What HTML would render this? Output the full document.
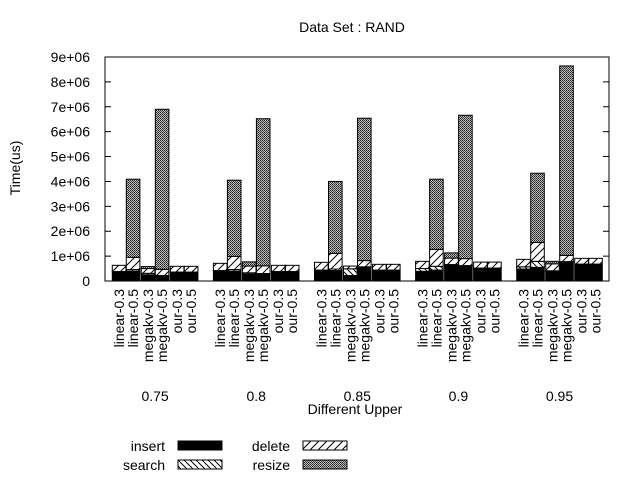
<!DOCTYPE html>
<html><head><meta charset="utf-8"><style>
body{margin:0;background:#fff}
svg{display:block;font-family:"Liberation Sans",sans-serif;font-size:14px}
</style></head><body>
<svg width="640" height="480" viewBox="0 0 640 480" id="chart">
<defs>
<pattern id="pSearch" width="6" height="6" patternUnits="userSpaceOnUse"><rect width="6" height="6" fill="#fff"/><path d="M0,0 L6,6 M-3,3 L0,6 M3,-3 L6,0" stroke="#000" stroke-width="1"/></pattern>
<pattern id="pDelete" width="8" height="8" patternUnits="userSpaceOnUse"><rect width="8" height="8" fill="#fff"/><path d="M0,8 L8,0 M-4,4 L4,-4 M4,12 L12,4" stroke="#000" stroke-width="1"/></pattern>
<pattern id="pResize" width="2" height="2" patternUnits="userSpaceOnUse"><rect width="2" height="2" fill="#bbb"/><rect width="1" height="1" fill="#222"/><rect x="1" y="1" width="1" height="1" fill="#444"/></pattern>
</defs>
<text x="352" y="32" text-anchor="middle">Data Set : RAND</text>
<text transform="translate(20,168) rotate(-90)" text-anchor="middle">Time(us)</text>
<text x="355" y="414" text-anchor="middle">Different Upper</text>
<g id="plot"></g>
<rect x="105" y="57" width="504" height="224" fill="none" stroke="#000" stroke-width="1"/>
<g>
<text x="165" y="451" text-anchor="end">insert</text>
<rect x="178" y="441" width="44" height="9" fill="#000" stroke="#000"/>
<text x="290" y="451" text-anchor="end">delete</text>
<rect x="303" y="441" width="44" height="9" fill="url(#pDelete)" stroke="#000"/>
<text x="165" y="470" text-anchor="end">search</text>
<rect x="178" y="460" width="44" height="9" fill="url(#pSearch)" stroke="#000"/>
<text x="290" y="470" text-anchor="end">resize</text>
<rect x="303" y="460" width="44" height="9" fill="url(#pResize)" stroke="#000"/>
</g>
</svg>
<script>
const groups = ["0.75","0.8","0.85","0.9","0.95"];
const methods = ["linear-0.3","linear-0.5","megakv-0.3","megakv-0.5","our-0.3","our-0.5"];
const yTicks = [0,1e6,2e6,3e6,4e6,5e6,6e6,7e6,8e6,9e6];
const yTickLabels = ["0","1e+06","2e+06","3e+06","4e+06","5e+06","6e+06","7e+06","8e+06","9e+06"];
// values in units of 1e6 us, per group, per method
const insertVals = [
 [0.35,0.40,0.25,0.20,0.36,0.36],
 [0.38,0.40,0.28,0.28,0.38,0.38],
 [0.40,0.42,0.22,0.55,0.44,0.44],
 [0.39,0.44,0.64,0.60,0.52,0.52],
 [0.48,0.55,0.39,0.76,0.68,0.68]];
const searchVals = [
 [0.03,0.06,0.06,0.02,0.00,0.00],
 [0.04,0.06,0.05,0.02,0.00,0.00],
 [0.04,0.06,0.27,0.02,0.00,0.00],
 [0.11,0.15,0.02,0.02,0.00,0.00],
 [0.09,0.24,0.02,0.02,0.00,0.00]];
const deleteVals = [
 [0.25,0.49,0.19,0.25,0.23,0.23],
 [0.29,0.53,0.27,0.31,0.25,0.25],
 [0.31,0.63,0.11,0.25,0.23,0.23],
 [0.29,0.68,0.26,0.28,0.24,0.24],
 [0.30,0.76,0.28,0.25,0.23,0.23]];
const resizeVals = [
 [0.00,3.14,0.08,6.43,0.00,0.00],
 [0.00,3.06,0.17,5.91,0.00,0.00],
 [0.00,2.89,0.00,5.72,0.00,0.00],
 [0.00,2.82,0.21,5.76,0.00,0.00],
 [0.00,2.78,0.10,7.61,0.00,0.00]];

const NS="http://www.w3.org/2000/svg";
const plot=document.getElementById('plot');
const y0=281, y1=57, yMax=9e6;
function yPix(v){return y0-v/yMax*(y0-y1);}
const groupStart=112.3, groupStep=101.1, barW=13.6;
const barOff=[0,14,29,43,58,72];
function xBar(g,m){return groupStart+g*groupStep+barOff[m];}
function mk(tag,attrs){const e=document.createElementNS(NS,tag);for(const k in attrs)e.setAttribute(k,attrs[k]);plot.appendChild(e);return e;}

yTicks.forEach((t,i)=>{
  const y=yPix(t);
  const l=mk('path',{d:`M105,${y}h6 M609,${y}h-6`,stroke:'#000'});
  
  
  const tx=mk('text',{x:90,y:y+5,'text-anchor':'end'});
  tx.textContent=yTickLabels[i];
  
  
});

const series=[[insertVals,'#000'],[searchVals,'url(#pSearch)'],[deleteVals,'url(#pDelete)'],[resizeVals,'url(#pResize)']];
const sNames=['insert','search','delete','resize'];
groups.forEach((g,gi)=>{
  methods.forEach((m,mi)=>{
    let acc=0;
    const x=xBar(gi,mi);
    series.forEach(([arr,fill],si)=>{
      const v=arr[gi][mi]*1e6;
      if(v<=0)return;
      const yt=yPix(acc+v), yb=yPix(acc);
      const r=mk('rect',{x:x,y:yt,width:barW,height:yb-yt,fill:fill,stroke:'#000','stroke-width':1});
      
      
      acc+=v;
    });
    const cx=x+barW/2+5;
    const t=mk('text',{transform:`translate(${cx},289) rotate(-90)`,'text-anchor':'end'});
    t.textContent=m;
    
    
  });
  const gx=groupStart+gi*groupStep+(barOff[5]+barW)/2;
  const gt=mk('text',{x:gx,y:401,'text-anchor':'middle'});
  gt.textContent=g;
  
  
});
</script>
</body></html>
